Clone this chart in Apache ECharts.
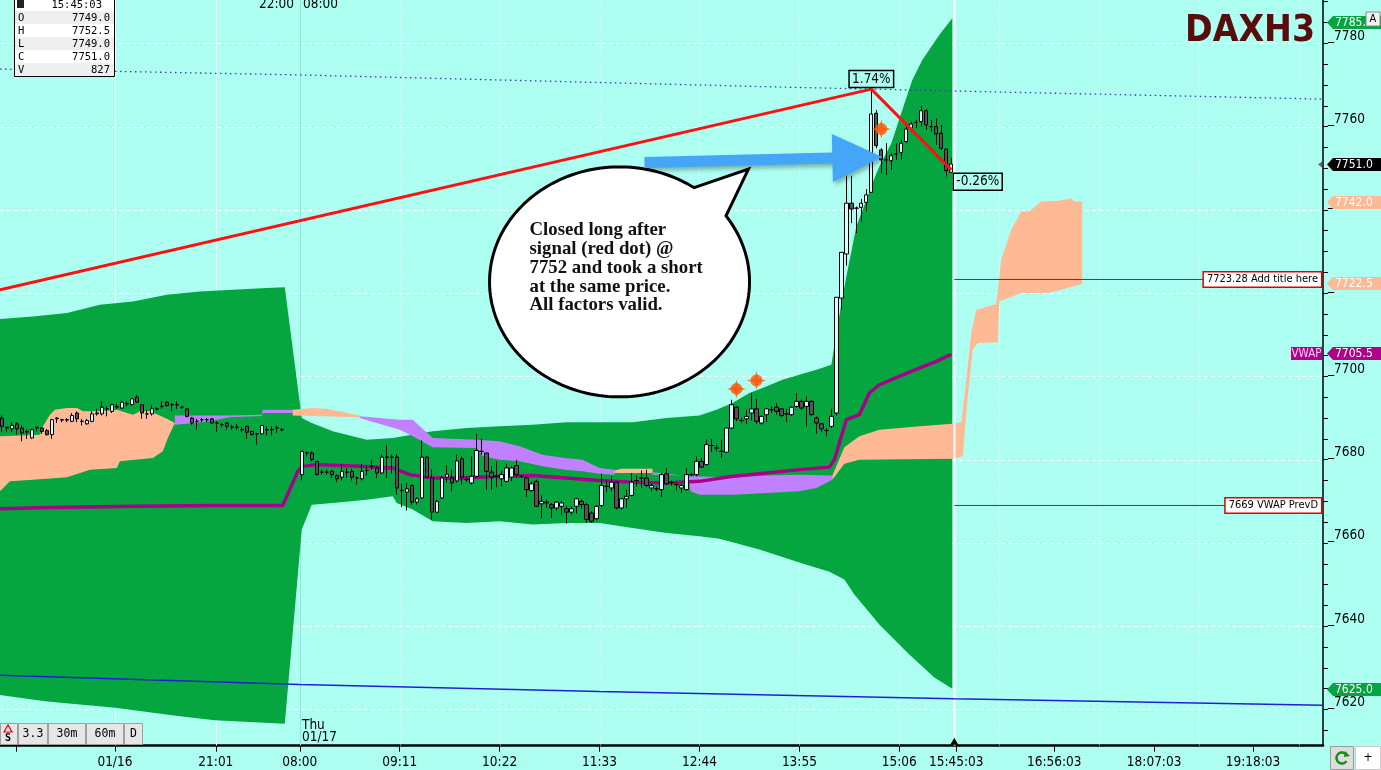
<!DOCTYPE html>
<html><head><meta charset="utf-8">
<script src="https://cdn.jsdelivr.net/npm/echarts@6/dist/echarts.min.js"></script>
<style>html,body{margin:0;padding:0;background:#adfff2;overflow:hidden}#c{width:1381px;height:770px}</style>
</head><body><div id="c"></div>
<script>
// ---------- axis ranges & ticks ----------
const X_MIN = -0.4, X_MAX = 264.4, Y_MIN = 7611.3, Y_MAX = 7790.4;
const xTickBars   = [2.8, 22.6, 42.8, 59.6, 79.6, 99.6, 119.6, 139.6, 159.6, 179.6, 191, 210.6, 230.6, 250.4];
const xTickLabels = ['', '01/16', '21:01', '08:00', '09:11', '10:22', '11:33', '12:44', '13:55', '15:06', '15:45:03', '16:56:03', '18:07:03', '19:18:03'];
const yLabelVals  = [7620, 7640, 7660, 7680, 7700, 7720, 7740, 7760, 7780];
const hGridVals   = [7620, 7640, 7660, 7680, 7700, 7720, 7740, 7760, 7780];
const vGridSolid  = [22.6, 42.8];
const vGridDotted = [79.6, 99.6, 119.6, 139.6, 159.6, 179.6, 199.6, 219.6, 239.6, 259.6];
const sessionLineBar = 59.6;
const nowBar = 190.6;

// ---------- candles [open, close, low, high] ----------
const prevDayStart = 0;
const prevDayCandles = [
[7690.0,7688.0,7686.6,7690.6],[7687.8,7687.6,7686.6,7687.8],[7687.4,7688.2,7686.6,7689.0],[7688.6,7687.4,7686.0,7689.0],
[7687.6,7686.4,7684.4,7688.2],[7686.6,7686.8,7685.0,7687.2],[7685.2,7687.2,7685.0,7687.4],[7687.6,7687.8,7686.8,7687.8],
[7687.6,7686.8,7686.2,7687.8],[7687.0,7686.0,7685.8,7687.4],[7686.0,7689.6,7685.0,7689.8],[7689.8,7690.0,7688.8,7690.2],
[7689.6,7689.5,7689.0,7689.8],[7689.6,7689.5,7689.0,7690.0],[7689.2,7690.6,7689.0,7691.2],[7691.2,7689.8,7689.0,7691.6],
[7689.2,7689.2,7688.2,7689.8],[7688.6,7689.4,7688.4,7689.8],[7689.2,7691.0,7689.0,7691.6],[7691.0,7691.2,7690.6,7692.2],
[7691.0,7692.6,7690.6,7694.0],[7692.2,7692.2,7690.4,7692.8],[7691.6,7693.2,7691.2,7693.4],[7692.6,7692.8,7692.2,7693.4],
[7692.4,7693.8,7692.2,7694.2],[7693.4,7693.5,7692.8,7694.0],[7693.2,7694.6,7693.0,7694.8],[7695.0,7693.8,7693.6,7695.6],
[7693.2,7691.2,7689.8,7693.2],[7691.0,7691.0,7689.8,7692.0],[7691.0,7692.2,7690.6,7693.0],[7692.2,7692.2,7691.8,7692.6],
[7692.8,7692.8,7692.2,7694.0],[7693.8,7693.0,7692.8,7694.0],[7693.2,7693.2,7691.6,7693.6],[7693.2,7693.2,7692.2,7694.0],
[7692.6,7692.6,7692.2,7692.8],[7692.2,7690.4,7690.2,7692.2],[7690.0,7688.8,7688.4,7690.2],[7689.2,7689.2,7687.2,7689.8],
[7689.6,7689.6,7689.0,7690.0],[7689.6,7689.6,7689.0,7690.0],[7689.8,7688.8,7688.6,7690.0],[7688.8,7688.8,7686.6,7689.2],
[7688.4,7688.4,7687.8,7688.8],[7688.8,7688.0,7687.2,7689.0],[7687.8,7687.8,7687.2,7688.4],[7687.8,7687.8,7687.2,7688.6],
[7687.2,7687.2,7686.6,7687.8],[7688.0,7686.6,7685.0,7688.2],[7686.8,7686.0,7685.8,7686.8],[7686.2,7686.2,7683.6,7686.2],
[7686.2,7688.2,7686.0,7688.2],[7687.2,7687.2,7685.8,7688.0],[7687.2,7687.2,7685.8,7688.0],[7687.6,7687.6,7686.4,7688.2],
[7687.2,7687.2,7686.8,7687.6]
];
const sessionStart = 60;
const sessionCandles = [
[7676.4,7682.0,7675.0,7682.0],[7681.6,7681.6,7680.8,7682.0],[7681.6,7680.0,7679.6,7682.0],[7679.6,7676.4,7676.2,7679.6],
[7677.0,7677.0,7676.4,7677.6],[7677.0,7677.0,7676.4,7677.6],[7677.2,7676.4,7675.6,7677.6],[7676.2,7675.4,7674.6,7676.4],
[7675.8,7677.2,7675.0,7679.0],[7677.0,7677.0,7675.6,7678.0],[7677.2,7675.8,7675.0,7677.8],[7675.6,7675.6,7674.0,7676.0],
[7675.4,7677.2,7675.0,7679.0],[7677.4,7677.4,7676.2,7678.4],[7678.4,7678.4,7677.6,7680.0],[7678.0,7676.8,7675.6,7678.4],
[7676.8,7680.6,7676.6,7681.2],[7680.6,7680.6,7675.6,7683.6],[7680.6,7680.6,7676.6,7681.2],[7680.6,7673.2,7671.6,7681.2],
[7672.6,7672.6,7668.6,7674.2],[7672.2,7673.0,7667.8,7674.4],[7673.8,7669.8,7669.2,7674.0],[7669.8,7670.6,7669.2,7671.0],
[7670.8,7680.6,7670.6,7684.6],[7680.6,7675.8,7675.6,7680.8],[7675.6,7667.4,7665.6,7677.6],[7667.4,7670.0,7667.2,7670.4],
[7670.8,7675.6,7670.6,7676.0],[7675.8,7676.5,7674.5,7678.6],[7675.6,7674.4,7672.4,7677.6],[7674.9,7679.7,7674.5,7681.2],
[7680.2,7675.8,7674.0,7680.8],[7675.2,7675.2,7674.6,7676.0],[7674.4,7676.0,7674.0,7680.8],[7676.0,7682.2,7675.6,7686.2],
[7682.0,7682.0,7681.2,7685.0],[7681.6,7677.2,7672.8,7681.6],[7677.0,7675.8,7672.8,7678.4],[7676.0,7676.0,7673.4,7679.6],
[7675.4,7676.4,7673.6,7677.2],[7674.8,7678.0,7674.6,7679.0],[7675.8,7678.0,7674.8,7678.4],[7678.6,7676.4,7675.6,7680.0],
[7676.0,7676.0,7675.6,7676.2],[7675.6,7672.8,7671.0,7676.0],[7672.6,7674.2,7672.2,7674.8],[7674.8,7668.8,7668.6,7675.2],
[7669.4,7670.0,7666.0,7671.4],[7669.6,7669.8,7668.4,7670.4],[7669.2,7668.4,7666.0,7669.6],[7668.4,7669.8,7667.8,7670.0],
[7668.8,7669.6,7666.8,7670.0],[7668.2,7667.4,7664.6,7668.8],[7667.4,7668.2,7666.8,7668.8],[7668.8,7670.6,7667.0,7670.8],
[7670.0,7669.2,7668.2,7670.4],[7669.2,7665.6,7664.8,7669.6],[7667.2,7665.2,7664.8,7667.6],[7665.8,7668.8,7665.4,7669.0],
[7669.0,7673.8,7668.6,7676.6],[7673.6,7673.6,7672.2,7675.0],[7673.2,7674.6,7672.4,7676.0],[7674.6,7668.4,7668.0,7674.8],
[7668.4,7670.6,7668.0,7670.8],[7670.6,7671.2,7668.4,7672.8],[7671.4,7674.6,7671.2,7676.8],[7675.0,7675.0,7673.6,7676.2],
[7675.6,7675.6,7673.2,7677.4],[7675.6,7673.8,7673.4,7677.6],[7673.2,7673.8,7672.4,7674.2],[7673.0,7673.0,7672.4,7673.6],
[7672.8,7676.4,7671.0,7676.8],[7676.6,7674.2,7674.0,7678.0],[7674.5,7674.5,7673.8,7675.0],[7674.0,7674.0,7672.6,7674.6],
[7673.2,7673.8,7672.0,7674.2],[7672.8,7676.4,7672.6,7678.0],[7676.4,7676.4,7676.0,7676.8],[7676.4,7679.6,7676.0,7680.8],
[7679.6,7678.2,7678.0,7680.4],[7678.8,7683.6,7678.6,7684.8],[7683.4,7683.4,7681.8,7685.0],[7682.8,7682.8,7682.0,7683.6],
[7682.0,7682.0,7680.4,7684.8],[7681.8,7687.6,7681.6,7687.6],[7687.6,7693.2,7687.4,7694.4],[7692.6,7689.8,7689.2,7692.8],
[7689.4,7689.4,7688.8,7690.0],[7689.8,7690.4,7688.6,7692.0],[7691.2,7692.2,7689.4,7696.0],[7692.2,7689.2,7688.6,7694.6],
[7688.8,7690.4,7688.4,7690.6],[7690.8,7692.2,7689.0,7692.4],[7692.0,7692.0,7691.2,7692.8],[7692.6,7691.6,7690.8,7693.6],
[7692.2,7690.6,7690.2,7692.4],[7691.0,7691.0,7689.0,7692.2],[7690.8,7692.6,7690.6,7692.8],[7692.8,7694.0,7692.4,7696.0],
[7694.0,7692.4,7692.0,7694.4],[7692.8,7694.0,7688.0,7695.2],[7694.0,7690.8,7690.6,7694.4],[7690.0,7688.8,7686.2,7690.4],
[7688.6,7687.4,7686.6,7688.8],[7687.0,7687.0,7685.6,7687.6],[7688.0,7690.4,7687.6,7692.2],[7691.2,7719.0,7690.6,7719.0],
[7718.8,7729.8,7716.0,7729.8],[7729.4,7741.6,7726.6,7748.2],[7741.6,7740.2,7736.8,7748.2],[7740.4,7740.4,7734.4,7740.8],
[7740.6,7741.6,7737.2,7742.6],[7741.8,7743.6,7739.6,7745.0],[7744.2,7763.0,7744.2,7769.0],[7763.2,7755.4,7754.8,7764.0],
[7754.4,7752.0,7748.8,7754.8],[7752.0,7752.0,7748.4,7756.0],[7751.8,7753.0,7749.6,7753.6],[7753.4,7753.4,7752.0,7756.0],
[7753.8,7756.0,7752.0,7756.8],[7756.4,7759.4,7756.0,7760.4],[7759.6,7760.6,7758.8,7761.2],[7761.0,7761.0,7759.6,7761.6],
[7761.2,7763.8,7760.0,7765.0],[7763.8,7760.4,7759.2,7764.2],[7760.0,7760.0,7758.8,7761.6],[7760.0,7758.2,7755.6,7762.0],
[7758.4,7754.8,7754.4,7760.4],[7754.6,7749.4,7748.0,7754.6],[7749.0,7751.0,7749.0,7752.5]
];
const lastVolume = 827;

// ---------- VWAP [bar, price] ----------
const vwapPts = [[-0.4,7668.2],[9.6,7668.5],[26.6,7668.8],[42.6,7669.0],[56.2,7669.0],[59.2,7677.2],[60.2,7678.4],[63,7678.8],
[71.6,7678.4],[78.2,7678.0],[81.6,7676.4],[86.2,7675.6],[91.6,7675.6],[99.6,7676.0],[106.2,7676.2],[119.6,7675.0],[126.2,7674.6],
[133,7674.4],[139.6,7674.8],[145.6,7675.9],[153,7676.8],[159.6,7677.6],[165.6,7678.2],[166.6,7680.0],[169,7689.6],[171.6,7690.8],
[173.6,7696.0],[175.6,7698.0],[179.6,7700.0],[183.6,7702.0],[187,7703.6],[190,7705.3]];

// ---------- green envelope band ----------
const bandUpper = [[-0.4,7713.8],[6.2,7714.4],[13,7715.2],[19.6,7717.2],[26.2,7718.0],[33,7719.6],[39.6,7720.4],[46.2,7720.8],
[53,7721.2],[56.6,7721.4],[60,7690.0],[62,7688.8],[66.2,7686.8],[73,7684.8],[78.2,7685.2],[86.2,7686.8],[93,7687.6],[99.6,7688.0],
[106.2,7688.4],[113,7689.0],[126.2,7689.0],[133,7690.0],[139.6,7690.6],[143,7692.0],[146.2,7693.6],[149.6,7696.0],[153,7697.6],
[156.2,7699.2],[159.6,7700.4],[163,7701.6],[166,7702.8],[167.2,7712.0],[169,7724.0],[171,7736.0],[173,7742.4],[174.2,7746.4],
[175.6,7750.4],[178,7756.0],[180.2,7764.0],[182.2,7771.2],[184.2,7776.0],[187.6,7782.0],[190.2,7786.0]];
const bandLower = [[-0.4,7623.5],[8.6,7622.0],[22.6,7620.4],[35.6,7618.4],[42.6,7617.4],[56.6,7616.6],[60,7663.2],[62,7669.2],
[66.2,7669.6],[73,7670.4],[78.2,7671.2],[79,7669.6],[82.2,7668.0],[86.2,7665.2],[93,7664.8],[99.6,7665.2],[106.2,7664.4],
[113,7664.8],[119.6,7664.8],[126.2,7663.6],[133,7662.4],[139.6,7661.6],[143.6,7661.0],[151.6,7658.4],[159.6,7655.3],
[165.6,7653.1],[168.6,7651.2],[170.6,7647.6],[175.6,7640.4],[181.6,7633.2],[186.6,7627.7],[190.2,7625.0]];

// ---------- cloud segments ----------
const peachPrevUpper = [[-0.4,7685.6],[7.6,7686.0],[8.2,7688.0],[9.6,7690.8],[10.6,7692.0],[13,7692.4],[15,7692.4],[16.2,7691.6],
[19.6,7691.6],[23,7692.0],[26.2,7690.8],[27.6,7691.6],[29.6,7691.6],[33,7689.8],[34.6,7688.8]];
const peachPrevLower = [[-0.4,7672.4],[1.6,7674.8],[6.2,7675.2],[13,7675.8],[17.6,7677.6],[23,7678.0],[23.6,7679.6],[30.2,7680.4],
[32.2,7682.0],[33.2,7685.2],[34.6,7688.8]];
const purplePrevUpper = [[34.6,7690.6],[45.6,7690.6],[52,7690.8],[52.2,7692.0],[58.2,7692.0]];
const purplePrevLower = [[34.6,7688.4],[38.6,7688.8],[41.6,7689.2],[45.6,7690.2],[52,7690.5],[52.2,7691.2],[58.2,7691.2]];
const peachGapUpper = [[58.2,7692.0],[62.2,7692.4],[65,7692.2],[71.6,7690.6]];
const peachGapLower = [[58.2,7690.6],[71.6,7690.2]];
const purpleAmUpper = [[71.6,7690.4],[79.6,7689.6],[82.2,7689.6],[86.2,7685.2],[95,7684.8],[99.6,7684.4],[103.6,7683.2],
[108.2,7681.2],[112.6,7680.4],[116.2,7680.0],[119.6,7678.0],[122.6,7677.6]];
const purpleAmLower = [[71.6,7690.0],[75,7688.8],[79.6,7687.2],[82.2,7685.6],[86.2,7683.0],[95,7682.8],[96.2,7680.8],[99.6,7680.0],
[103.6,7679.6],[108.2,7678.4],[112.6,7677.6],[116.2,7677.2],[119.6,7676.6],[122.6,7676.4]];
const peachNoonUpper = [[122.6,7677.4],[124,7677.8],[130.2,7677.8]];
const peachNoonLower = [[122.6,7676.8],[130.2,7676.8]];
const purplePmUpper = [[130.2,7677.0],[137.6,7676.0],[146.2,7675.8],[153,7676.2],[159.6,7676.4],[166.2,7676.2]];
const purplePmLower = [[130.2,7676.4],[137.4,7676.2],[137.8,7672.4],[139.6,7671.6],[146.2,7671.6],[153,7672.0],[159.6,7672.4],
[163,7673.2],[166.2,7675.2]];
const peachLateUpper = [[166.2,7676.2],[168.6,7683.0],[171.6,7685.6],[175.6,7687.2],[183.6,7688.0],[190.2,7688.6],[192,7688.9],
[193,7699.2],[194,7710.4],[195,7716.0],[199,7717.4],[200,7728.0],[202,7735.2],[204,7739.6],[205.6,7739.6],[208,7742.0],
[211.6,7742.2],[214,7742.8],[214.6,7742.0],[216.2,7742.0]];
const peachLateLower = [[166.2,7675.2],[168.6,7679.0],[171.6,7680.0],[190.2,7680.2],[192.3,7680.8],[193.3,7695.2],[194.3,7706.4],
[195.3,7708.0],[199.3,7708.2],[199.6,7718.0],[204,7720.0],[209.6,7720.0],[214.3,7721.6],[216.2,7722.2]];

// ---------- other lines ----------
const topDottedLine = [[-0.4,7773.8],[59.6,7772.4],[155.6,7769.5],[199.6,7768.3],[264.4,7766.6]];
const bottomBlueLine = [[-0.4,7628.2],[59.6,7626.0],[119.6,7624.3],[190.6,7622.6],[264.4,7621.0]];
const trendLine = [[-0.4,7720.8],[174,7769.0],[190,7749.6]];
const pctAnchors = [[174,7769.0],[190,7749.6]];
const pctTexts = ['1.74%', '-0.26%'];
const signalDots = [[147,7697.0],[151,7699.0],[176,7759.4]];
const hLinePrices = [7723.28, 7669];
const hLineLabels = ['7723.28 Add title here', '7669 VWAP PrevD'];
const hLineStart = 190.6;

// ---------- price tags ----------
const tagPrices = [7785.0, 7751.0, 7742.0, 7722.5, 7705.5, 7625.0];
const tagColors = ['#07a442', '#000000', '#ffb994', '#ffb994', '#b0008c', '#07a442'];
const tagSide   = ['', '', '', '', 'VWAP', ''];

// ---------- annotation ----------
const bubbleCenter = [123.6, 7722.7];
const bubbleTip = [149.4, 7749.8];
const bubbleLines = ['Closed long after', 'signal (red dot) @', '7752 and took a short', 'at the same price.', 'All factors valid.'];
const arrowTail = [128.6, 7751.4];
const arrowTip = [176.2, 7752.7];

const COND = "'DejaVu Sans Condensed','Liberation Sans',sans-serif";
const MONO = "'DejaVu Sans Mono',monospace";

// ================= build =================
const candleData = prevDayCandles.map((c, i) => [prevDayStart + i].concat(c))
  .concat(sessionCandles.map((c, i) => [sessionStart + i].concat(c)));

function segSeries(data, style, z) {
  return {
    type: 'custom', z: z, silent: true, clip: true,
    data: data, encode: { x: [0, 2], y: [1, 3] },
    renderItem: function (params, api) {
      const a = api.coord([api.value(0), api.value(1)]);
      const b = api.coord([api.value(2), api.value(3)]);
      let x1 = a[0], x2 = b[0], y1 = a[1], y2 = b[1];
      if (Math.abs(y1 - y2) < 0.01) { y1 = y2 = Math.round(y1) + 0.5; }
      if (Math.abs(x1 - x2) < 0.01) { x1 = x2 = Math.round(x1) + 0.5; }
      return { type: 'line', shape: { x1: x1, y1: y1, x2: x2, y2: y2 }, style: style };
    }
  };
}

function polySeries(upper, lower, color, z) {
  return {
    type: 'custom', z: z, silent: true, clip: true,
    data: upper, encode: { x: 0, y: 1 },
    renderItem: function (params, api) {
      if (params.dataIndex !== 0) return null;
      const pts = upper.map(p => api.coord(p)).concat(lower.slice().reverse().map(p => api.coord(p)));
      return { type: 'polygon', shape: { points: pts }, style: { fill: color } };
    }
  };
}

function lineSeries(data, color, width, z, type) {
  return {
    type: 'line', data: data, z: z, silent: true, symbol: 'none', clip: true,
    lineStyle: { color: color, width: width, type: type || 'solid' }, emphasis: { disabled: true }
  };
}

const series = [];
// grid lines
series.push(segSeries(hGridVals.map(v => [X_MIN, v, X_MAX, v]), { stroke: '#ffffff', lineWidth: 1, lineDash: [4, 3] }, 1));
series.push(segSeries(vGridSolid.map(v => [v, Y_MIN, v, Y_MAX]), { stroke: '#ffffff', lineWidth: 1 }, 1));
series.push(segSeries(vGridDotted.map(v => [v, Y_MIN, v, Y_MAX]), { stroke: '#ffffff', lineWidth: 1, lineDash: [1, 2] }, 1));
series.push(segSeries([[sessionLineBar, Y_MIN, sessionLineBar, Y_MAX]], { stroke: '#93e3dc', lineWidth: 1 }, 1));
// bands & clouds
series.push(polySeries(bandUpper, bandLower, '#05a540', 2));
[[peachPrevUpper, peachPrevLower, '#ffb994'], [purplePrevUpper, purplePrevLower, '#c080ff'],
 [peachGapUpper, peachGapLower, '#ffb994'], [purpleAmUpper, purpleAmLower, '#c080ff'],
 [peachNoonUpper, peachNoonLower, '#ffb994'], [purplePmUpper, purplePmLower, '#c080ff'],
 [peachLateUpper, peachLateLower, '#ffb994']].forEach(c => series.push(polySeries(c[0], c[1], c[2], 3)));
// now line
series.push(segSeries([[nowBar, Y_MIN, nowBar, Y_MAX]], { stroke: '#ffffff', lineWidth: 2 }, 3.5));
// reference lines
series.push(lineSeries(topDottedLine, '#3a3aa8', 1.3, 4, [1.5, 3.5]));
series.push(lineSeries(bottomBlueLine, '#2020d8', 1.5, 4));
hLinePrices.forEach(p => series.push(lineSeries([[hLineStart, p], [X_MAX, p]], '#e00000', 1, 4)));
// VWAP
series.push(lineSeries(vwapPts, '#a8008a', 3.4, 5));
// candles
series.push({
  type: 'candlestick', z: 6, silent: true, data: candleData, encode: { x: 0, y: [1, 2, 3, 4] },
  barWidth: 3.8,
  itemStyle: { color: '#d6ffff', color0: '#555555', borderColor: '#000000', borderColor0: '#000000', borderWidth: 1 },
  emphasis: { disabled: true }
});
// trend line
series.push(lineSeries(trendLine, '#ff1010', 3, 7));
// signal dots (spikes + disc)
series.push({
  type: 'scatter', z: 8, silent: true, data: signalDots,
  symbol: 'path://M0,-10 L2.2,-2.2 L10,0 L2.2,2.2 L0,10 L-2.2,2.2 L-10,0 L-2.2,-2.2 Z',
  symbolSize: 19, itemStyle: { color: '#ff5a0a' }
});
series.push({
  type: 'scatter', z: 8, silent: true, data: signalDots,
  symbol: 'circle', symbolSize: 12, itemStyle: { color: '#ff5a0a' }
});
// percent boxes
series.push({
  type: 'custom', z: 9, silent: true, clip: false, data: pctAnchors, encode: { x: 0, y: 1 },
  renderItem: function (params, api) {
    const p = api.coord(pctAnchors[params.dataIndex]);
    const first = params.dataIndex === 0;
    return {
      type: 'text', x: first ? p[0] : p[0] + 2, y: first ? p[1] - 10 : p[1] + 12,
      style: {
        text: pctTexts[params.dataIndex], font: '13.5px ' + COND, fill: '#000',
        align: first ? 'center' : 'left', verticalAlign: 'middle',
        borderColor: '#000', borderWidth: 1.5, padding: [2, 3, 1, 3]
      }
    };
  }
});
// speech bubble
series.push({
  type: 'custom', z: 10, silent: true, clip: false, data: [bubbleCenter], encode: { x: 0, y: 1 },
  renderItem: function (params, api) {
    const c = api.coord(bubbleCenter), t = api.coord(bubbleTip);
    const rx = 130, ry = 115, pts = [];
    for (let a = -35; a <= 305; a += 2) {
      const r = a * Math.PI / 180;
      pts.push([c[0] + rx * Math.cos(r), c[1] + ry * Math.sin(r)]);
    }
    pts.push(t);
    return {
      type: 'group', children: [
        { type: 'polygon', shape: { points: pts }, style: { fill: '#ffffff', stroke: '#000000', lineWidth: 3, lineJoin: 'miter' } },
        { type: 'text', x: c[0] - 90, y: c[1] - 61,
          style: { text: bubbleLines.join('\n'), font: 'bold 18.8px "Liberation Serif","DejaVu Serif",serif', lineHeight: 18.8,
                   fill: '#111', align: 'left', verticalAlign: 'top' } }
      ]
    };
  }
});
// blue arrow
series.push({
  type: 'custom', z: 11, silent: true, clip: false, data: [arrowTip], encode: { x: 0, y: 1 },
  renderItem: function (params, api) {
    const a = api.coord(arrowTail), b = api.coord(arrowTip);
    const dx = b[0] - a[0], dy = b[1] - a[1], len = Math.hypot(dx, dy);
    const ux = dx / len, uy = dy / len, nx = -uy, ny = ux;
    const hw = 5.5, hh = 24, hl = 50;
    const bx = b[0] - ux * hl, by = b[1] - uy * hl;
    const pts = [
      [a[0] + nx * hw, a[1] + ny * hw], [bx + nx * hw, by + ny * hw], [bx + nx * hh, by + ny * hh], b,
      [bx - nx * hh, by - ny * hh], [bx - nx * hw, by - ny * hw], [a[0] - nx * hw, a[1] - ny * hw]
    ];
    return { type: 'polygon', shape: { points: pts },
      style: { fill: '#45a6f7', shadowBlur: 4, shadowColor: 'rgba(0,0,0,0.3)', shadowOffsetX: 2, shadowOffsetY: 3 } };
  }
});
// horizontal line labels
series.push({
  type: 'custom', z: 12, silent: true, clip: false, data: hLinePrices.map(p => [X_MAX, p]), encode: { x: 0, y: 1 },
  renderItem: function (params, api) {
    const p = api.coord([X_MAX, hLinePrices[params.dataIndex]]);
    return { type: 'text', x: p[0] - 2, y: Math.round(p[1]) + 0.5,
      style: { text: hLineLabels[params.dataIndex], font: '11px ' + COND, fill: '#000', align: 'right', verticalAlign: 'middle',
               backgroundColor: '#ffffff', borderColor: '#e00000', borderWidth: 1.5, padding: [2, 3, 1, 3] } };
  }
});
// price tags on the axis
series.push({
  type: 'custom', z: 13, silent: true, clip: false, data: tagPrices.map(p => [X_MAX, p]), encode: { x: 0, y: 1 },
  renderItem: function (params, api) {
    const i = params.dataIndex;
    const p = api.coord([X_MAX, tagPrices[i]]);
    const x0 = p[0], y = Math.round(p[1]) + 0.5, h = 6.5;
    const kids = [
      { type: 'polygon', shape: { points: [[x0 + 4, y], [x0 + 10, y - h], [x0 + 58, y - h], [x0 + 58, y + h], [x0 + 10, y + h]] },
        style: { fill: tagColors[i] } },
      { type: 'text', x: x0 + 12, y: y + 0.5,
        style: { text: tagPrices[i].toFixed(1), font: '12px ' + COND, fill: '#ffffff', align: 'left', verticalAlign: 'middle' } }
    ];
    if (tagSide[i]) {
      kids.push({ type: 'rect', shape: { x: x0 - 32, y: y - h, width: 31, height: 2 * h }, style: { fill: tagColors[i] } });
      kids.push({ type: 'text', x: x0 - 16.5, y: y + 0.5,
        style: { text: tagSide[i], font: '11.5px ' + COND, fill: '#ffd0f0', align: 'center', verticalAlign: 'middle' } });
    }
    if (i === 1) {
      kids.push({ type: 'polygon', shape: { points: [[x0 - 5, y], [x0 - 1, y - 3], [x0 - 1, y + 3]] }, style: { fill: '#666' } });
    }
    return { type: 'group', children: kids };
  }
});
// current-bar marker on the time axis
series.push({
  type: 'custom', z: 13, silent: true, clip: false, data: [[nowBar, Y_MIN]], encode: { x: 0, y: 1 },
  renderItem: function (params, api) {
    const p = api.coord([nowBar, Y_MIN]);
    return { type: 'polygon', shape: { points: [[p[0] - 4, p[1] - 1], [p[0] + 4, p[1] - 1], [p[0], p[1] - 8]] }, style: { fill: '#000' } };
  }
});

// ---------- static UI chrome ----------
const last = sessionCandles[sessionCandles.length - 1];
const ohlcRows = [['', '15:45:03'], ['O', last[0].toFixed(1)], ['H', last[3].toFixed(1)], ['L', last[2].toFixed(1)],
                  ['C', last[1].toFixed(1)], ['V', String(lastVolume)]];
const graphics = [];
ohlcRows.forEach((r, i) => {
  const top = -2 + 13 * i;
  graphics.push({ type: 'rect', shape: { x: 15, y: top, width: 99, height: 13 }, style: { fill: i % 2 ? '#efefef' : '#ffffff' }, z: 100 });
  if (r[0]) graphics.push({ type: 'text', x: 18, y: top + 7, style: { text: r[0], font: '10.5px ' + MONO, fill: '#000', verticalAlign: 'middle' }, z: 101 });
  graphics.push({ type: 'text', x: i === 0 ? 102 : 110, y: top + 7, style: { text: r[1], font: '10.5px ' + MONO, fill: '#000', align: 'right', verticalAlign: 'middle' }, z: 101 });
});
graphics.push({ type: 'rect', shape: { x: 17, y: 0, width: 7, height: 8 }, style: { fill: '#222' }, z: 101 });
graphics.push({ type: 'rect', shape: { x: 14.5, y: -3, width: 100, height: 79.5 }, style: { fill: 'none', stroke: '#000', lineWidth: 1 }, z: 102 });
graphics.push({ type: 'text', x: 259, y: 4, style: { text: '22:00', font: '13.5px ' + COND, fill: '#000', verticalAlign: 'middle' }, z: 100 });
graphics.push({ type: 'text', x: 303, y: 4, style: { text: '08:00', font: '13.5px ' + COND, fill: '#000', verticalAlign: 'middle' }, z: 100 });
graphics.push({ type: 'text', x: 1185, y: 31, style: { text: 'DAXH3', font: 'bold 37px ' + COND, fill: '#5a0b0b', verticalAlign: 'middle' }, z: 100 });
graphics.push({ type: 'rect', shape: { x: 1366, y: 12, width: 14, height: 14 }, style: { fill: '#f2f2f2', stroke: '#888', lineWidth: 1 }, z: 110 });
graphics.push({ type: 'text', x: 1373, y: 19.5, style: { text: 'A', font: '11px ' + COND, fill: '#000', align: 'center', verticalAlign: 'middle' }, z: 111 });
graphics.push({ type: 'text', x: 302, y: 719, style: { text: 'Thu\n01/17', font: '13.5px ' + COND, fill: '#000', lineHeight: 12.5, verticalAlign: 'top' }, z: 100 });
// buttons bottom-left
const btns = [[0, 17, ''], [18, 29, '3.3'], [48, 37, '30m'], [86, 37, '60m'], [124, 18, 'D']];
btns.forEach(b => {
  graphics.push({ type: 'rect', shape: { x: b[0] + 0.5, y: 723.5, width: b[1], height: 21 }, style: { fill: '#e6e6e6', stroke: '#a0a0a0', lineWidth: 1 }, z: 100 });
  if (b[2]) graphics.push({ type: 'text', x: b[0] + b[1] / 2 + 0.5, y: 734, style: { text: b[2], font: '11.5px ' + MONO, fill: '#000', align: 'center', verticalAlign: 'middle' }, z: 101 });
});
graphics.push({ type: 'polygon', shape: { points: [[4, 732], [8, 725], [12, 732]] }, style: { fill: 'none', stroke: '#e00000', lineWidth: 1.2 }, z: 101 });
graphics.push({ type: 'text', x: 8, y: 738, style: { text: 'S', font: 'bold 10px ' + MONO, fill: '#000', align: 'center', verticalAlign: 'middle' }, z: 101 });
// buttons bottom-right
graphics.push({ type: 'rect', shape: { x: 1330.5, y: 746.5, width: 23, height: 23 }, style: { fill: '#dddddd', stroke: '#999', lineWidth: 1 }, z: 100 });
graphics.push({ type: 'arc', shape: { cx: 1342, cy: 758, r: 5.5, startAngle: 0.6, endAngle: 5.6 }, style: { stroke: '#1a8a1a', lineWidth: 2.5, fill: 'none' }, z: 101 });
graphics.push({ type: 'polygon', shape: { points: [[1345, 751], [1350, 756], [1344, 757]] }, style: { fill: '#1a8a1a' }, z: 101 });
graphics.push({ type: 'rect', shape: { x: 1355.5, y: 746.5, width: 25, height: 23 }, style: { fill: '#ffffff', stroke: '#cccccc', lineWidth: 1 }, z: 100 });
graphics.push({ type: 'text', x: 1368, y: 758, style: { text: '+', font: '12px ' + COND, fill: '#000', align: 'center', verticalAlign: 'middle' }, z: 101 });

const yTickVals = [];
for (let v = 7615; v <= 7790; v += 5) yTickVals.push(v);

const option = {
  animation: false,
  backgroundColor: '#adfff2',
  grid: { left: 0, right: 58, top: 0, bottom: 24.3, containLabel: false, outerBoundsMode: 'none' },
  xAxis: {
    type: 'value', min: X_MIN, max: X_MAX, position: 'bottom',
    axisLine: { show: true, onZero: false, lineStyle: { color: '#000', width: 2.5 } },
    axisTick: { show: true, inside: false, length: 6, customValues: xTickBars, lineStyle: { color: '#000', width: 1 } },
    axisLabel: {
      show: true, customValues: xTickBars, margin: 10, color: '#000', fontSize: 13.5, fontFamily: COND,
      formatter: function (v) { const i = xTickBars.findIndex(b => Math.abs(b - v) < 0.01); return i >= 0 ? xTickLabels[i] : ''; }
    },
    splitLine: { show: false }
  },
  yAxis: {
    type: 'value', min: Y_MIN, max: Y_MAX, position: 'right', scale: true,
    axisLine: { show: true, onZero: false, lineStyle: { color: '#000', width: 1.5 } },
    axisTick: { show: true, inside: false, length: 5, customValues: yTickVals, lineStyle: { color: '#000', width: 1 } },
    axisLabel: {
      show: true, customValues: yLabelVals, margin: 5, color: '#000', fontSize: 13.5, fontFamily: COND,
      verticalAlign: 'bottom', formatter: function (v) { return '_' + v; }
    },
    splitLine: { show: false }
  },
  graphic: graphics,
  series: series
};
const chart = echarts.init(document.getElementById('c'), null, { renderer: 'canvas', width: 1381, height: 770 });
chart.setOption(option);
</script>
</body></html>
